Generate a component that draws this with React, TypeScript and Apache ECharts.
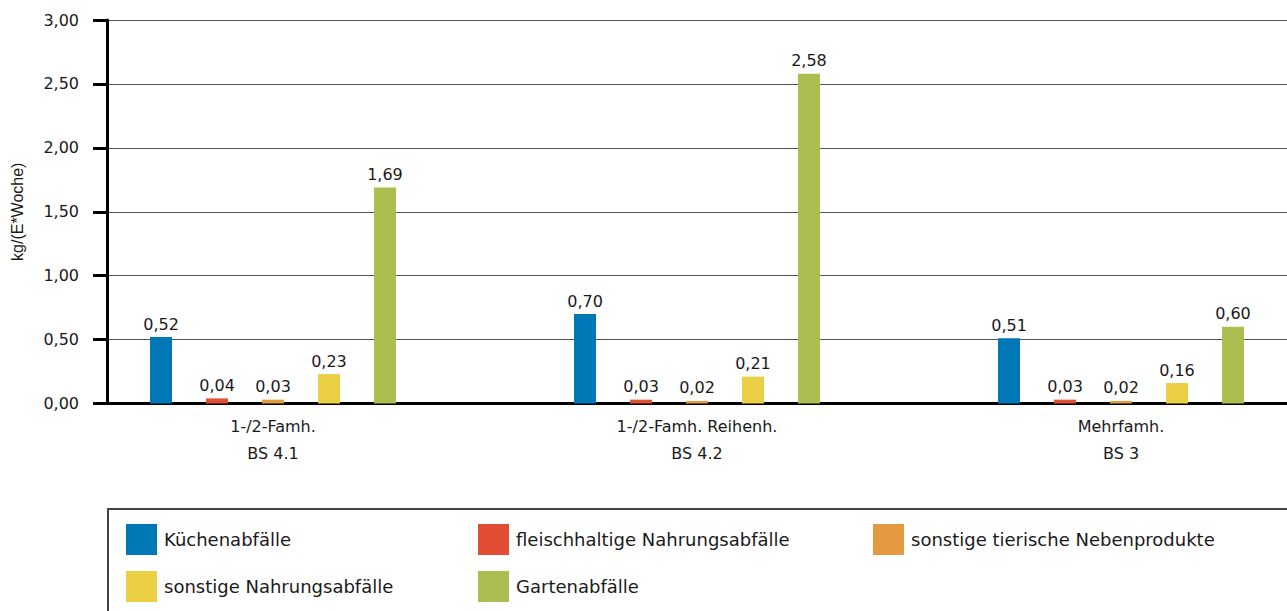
import React, { useEffect, useRef } from "react";
import * as echarts from "echarts";

const categories = ["1-/2-Famh.\nBS 4.1", "1-/2-Famh. Reihenh.\nBS 4.2", "Mehrfamh.\nBS 3"];
const seriesNames = [
  "Küchenabfälle",
  "fleischhaltige Nahrungsabfälle",
  "sonstige tierische Nebenprodukte",
  "sonstige Nahrungsabfälle",
  "Gartenabfälle",
];
const kuechen = [0.52, 0.7, 0.51];
const fleisch = [0.04, 0.03, 0.03];
const tierisch = [0.03, 0.02, 0.02];
const nahrung = [0.23, 0.21, 0.16];
const garten = [1.69, 2.58, 0.6];
const seriesValues = [kuechen, fleisch, tierisch, nahrung, garten];
const colors = ["#0077b6", "#e24e34", "#e59a40", "#ebcf45", "#adbe50"];
const yTicks = { min: 0, max: 3, interval: 0.5 };
const yName = "kg/(E*Woche)";

const FONT = "DejaVu Sans";
const fmt = (v: number) => v.toFixed(2).replace(".", ",");

export default function App() {
  const ref = useRef<HTMLDivElement>(null);
  useEffect(() => {
    if (!ref.current) return;
    const chart = echarts.init(ref.current, undefined, { renderer: "svg" });
    const legendPos = [
      { left: 126, top: 524 },
      { left: 478, top: 524 },
      { left: 873, top: 524 },
      { left: 126, top: 571 },
      { left: 478, top: 571 },
    ];
    const option: any = {
      animation: false,
      backgroundColor: "#ffffff",
      textStyle: { fontFamily: FONT },
      grid: [
        { left: 107, top: 20, right: 0, bottom: 207.5, outerBoundsMode: "none", containLabel: false },
        { left: 61, top: 20, width: 1272, bottom: 207.5, outerBoundsMode: "none", containLabel: false },
      ],
      xAxis: [
        {
          type: "category",
          gridIndex: 0,
          data: categories,
          axisLine: { show: true, lineStyle: { color: "#000", width: 3 } },
          axisTick: { show: false },
          axisLabel: { show: false },
          splitLine: { show: false },
        },
        {
          type: "category",
          gridIndex: 1,
          data: categories,
          axisLine: { show: false },
          axisTick: { show: false },
          axisLabel: {
            show: true,
            margin: 9,
            fontFamily: FONT,
            fontSize: 16,
            lineHeight: 27,
            color: "#1a1a1a",
          },
          splitLine: { show: false },
        },
      ],
      yAxis: [
        {
          type: "value",
          gridIndex: 0,
          min: yTicks.min,
          max: yTicks.max,
          interval: yTicks.interval,
          name: yName,
          nameLocation: "middle",
          nameGap: 82,
          nameTextStyle: { fontFamily: "Liberation Sans", fontSize: 16, color: "#1a1a1a" },
          axisLine: { show: true, lineStyle: { color: "#000", width: 3 } },
          axisTick: { show: true, length: 14, lineStyle: { color: "#000", width: 3 } },
          axisLabel: {
            margin: 28,
            fontFamily: FONT,
            fontSize: 16,
            color: "#1a1a1a",
            formatter: (v: number) => fmt(v),
          },
          splitLine: { show: true, lineStyle: { color: "#555", width: 1 } },
        },
        {
          type: "value",
          gridIndex: 1,
          min: yTicks.min,
          max: yTicks.max,
          interval: yTicks.interval,
          show: false,
          splitLine: { show: false },
        },
      ],
      legend: seriesNames.map((n, i) => ({
        data: [n],
        left: legendPos[i].left,
        top: legendPos[i].top,
        padding: 0,
        itemWidth: 31,
        itemHeight: 31,
        icon: "rect",
        selectedMode: false,
        textStyle: { fontFamily: FONT, fontSize: 18, color: "#1a1a1a", padding: [0, 0, 0, 2] },
      })),
      graphic: [
        {
          type: "rect",
          shape: { x: 108, y: 509, width: 1300, height: 200 },
          style: { fill: "none", stroke: "#444", lineWidth: 2 },
          z: -1,
          silent: true,
        },
      ],
      series: seriesNames.map((n, i) => ({
        name: n,
        type: "bar",
        xAxisIndex: 1,
        yAxisIndex: 1,
        data: seriesValues[i],
        barWidth: 22,
        barGap: "154.5%",
        itemStyle: { color: colors[i] },
        label: {
          show: true,
          position: "top",
          distance: 5,
          fontFamily: FONT,
          fontSize: 16,
          color: "#1a1a1a",
          formatter: (p: any) => fmt(p.value),
        },
      })),
    };
    chart.setOption(option);
    return () => chart.dispose();
  }, []);
  return (
    <div
      ref={ref}
      style={{ position: "fixed", left: 0, top: 0, width: 1287, height: 611 }}
    />
  );
}
